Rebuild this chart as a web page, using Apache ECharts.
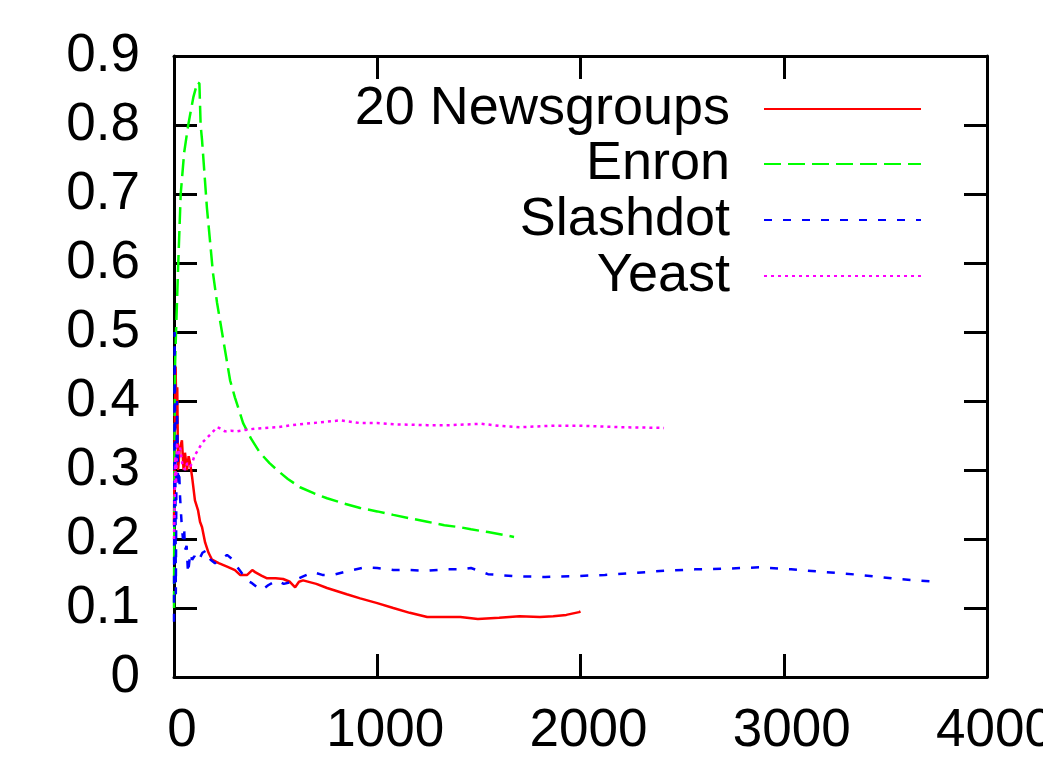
<!DOCTYPE html>
<html>
<head>
<meta charset="utf-8">
<script src="https://cdn.jsdelivr.net/npm/echarts@6/dist/echarts.min.js"></script>
<style>
html,body{margin:0;padding:0;background:#fff;}
#chart{width:1043px;height:764px;}
</style>
</head>
<body>
<div id="chart"></div>
<script>
// ---- data ----
var seriesNames = ['20 Newsgroups', 'Enron', 'Slashdot', 'Yeast'];
var xTickLabels = ['0', '1000', '2000', '3000', '4000'];
var yTickLabels = ['0', '0.1', '0.2', '0.3', '0.4', '0.5', '0.6', '0.7', '0.8', '0.9'];

var newsgroups = [[0,0.22],[4,0.38],[8,0.45],[12,0.36],[16,0.42],[20,0.30],[28,0.33],[39,0.343],[47,0.30],[54,0.325],[64,0.30],[72,0.32],[79,0.31],[89,0.29],[103,0.256],[118,0.242],[128,0.225],[138,0.217],[153,0.195],[170,0.18],[187,0.17],[220,0.165],[261,0.16],[300,0.155],[325,0.148],[360,0.148],[385,0.155],[399,0.152],[430,0.147],[458,0.143],[500,0.143],[537,0.142],[570,0.138],[596,0.13],[615,0.138],[635,0.14],[700,0.135],[753,0.129],[850,0.12],[916,0.114],[1000,0.107],[1079,0.10],[1160,0.093],[1246,0.087],[1330,0.087],[1409,0.087],[1495,0.084],[1600,0.086],[1700,0.088],[1800,0.087],[1866,0.088],[1930,0.09],[1993,0.094],[2000,0.095]];

var enron = [[0,0.10],[2,0.30],[5,0.45],[10,0.50],[21,0.60],[33,0.70],[50,0.76],[70,0.80],[95,0.84],[115,0.862],[125,0.86],[131,0.80],[138,0.778],[162,0.68],[192,0.585],[212,0.542],[236,0.50],[276,0.43],[300,0.405],[340,0.368],[380,0.345],[423,0.325],[470,0.31],[507,0.30],[560,0.287],[620,0.275],[690,0.266],[753,0.259],[830,0.252],[916,0.245],[1000,0.24],[1079,0.235],[1160,0.23],[1246,0.225],[1330,0.22],[1409,0.217],[1461,0.214],[1545,0.21],[1620,0.206],[1673,0.203]];

var slashdot = [[0,0.08],[3,0.50],[6,0.35],[9,0.12],[12,0.30],[15,0.40],[20,0.275],[25,0.30],[30,0.26],[38,0.22],[44,0.20],[50,0.215],[54,0.184],[62,0.19],[69,0.15],[80,0.18],[89,0.17],[100,0.175],[118,0.167],[140,0.18],[162,0.184],[180,0.17],[202,0.165],[230,0.17],[261,0.177],[290,0.17],[310,0.16],[335,0.15],[360,0.14],[384,0.136],[410,0.13],[433,0.126],[463,0.133],[507,0.14],[540,0.135],[581,0.138],[630,0.145],[684,0.152],[730,0.148],[783,0.148],[850,0.153],[941,0.159],[1000,0.158],[1079,0.155],[1160,0.155],[1246,0.154],[1330,0.156],[1409,0.156],[1461,0.158],[1545,0.149],[1683,0.146],[1826,0.145],[1968,0.146],[2120,0.148],[2273,0.151],[2411,0.154],[2563,0.156],[2716,0.157],[2883,0.159],[3036,0.156],[3208,0.152],[3375,0.148],[3562,0.142],[3749,0.138]];

var yeast = [[0,0.20],[3,0.24],[6,0.32],[10,0.28],[15,0.34],[20,0.32],[30,0.333],[40,0.31],[54,0.30],[65,0.31],[79,0.305],[89,0.31],[100,0.32],[118,0.329],[140,0.34],[167,0.348],[190,0.355],[212,0.362],[230,0.36],[251,0.356],[280,0.357],[310,0.356],[349,0.358],[400,0.36],[448,0.361],[507,0.362],[580,0.365],[679,0.368],[753,0.37],[820,0.372],[916,0.368],[1000,0.368],[1100,0.366],[1246,0.365],[1360,0.365],[1512,0.367],[1600,0.364],[1700,0.362],[1850,0.364],[2005,0.364],[2200,0.362],[2411,0.361]];

var seriesData = [newsgroups, enron, slashdot, yeast];
var seriesColors = ['#ff0000', '#00ff00', '#0000ff', '#ff00ff'];
var seriesDash = ['solid', [17, 7], [8, 11], [3, 4]];

// ---- chart ----
var FONT = '"Liberation Sans", Arial, Helvetica, sans-serif';
var chart = echarts.init(document.getElementById('chart'), null, {renderer: 'canvas'});

function axisCommon(extra) {
  var base = {
    type: 'value',
    axisLine: {show: true, onZero: false, lineStyle: {color: '#000', width: 3}},
    axisTick: {show: true, inside: true, length: 23, lineStyle: {color: '#000', width: 3}},
    splitLine: {show: false}
  };
  for (var k in extra) base[k] = extra[k];
  return base;
}

var xAxes = [
  axisCommon({position: 'bottom', min: 0, max: 4000, interval: 1000,
    axisLabel: {show: true, color: '#000', fontSize: 53, fontFamily: FONT, margin: 28,
      padding: [0, 0, 0, 16], hideOverlap: false,
      formatter: function (v) { return xTickLabels[Math.round(v / 1000)]; }}}),
  axisCommon({position: 'top', min: 0, max: 4000, interval: 1000, axisLabel: {show: false}})
];
var yAxes = [
  axisCommon({position: 'left', min: 0, max: 0.9, interval: 0.1,
    axisLabel: {show: true, color: '#000', fontSize: 53, fontFamily: FONT, margin: 34,
      formatter: function (v) { return yTickLabels[Math.round(v / 0.1)]; }}}),
  axisCommon({position: 'right', min: 0, max: 0.9, interval: 0.1, axisLabel: {show: false}})
];

var rowTops = [77, 132, 188, 244];
var legends = seriesNames.map(function (n, i) {
  return {
    data: [n],
    right: 116,
    top: rowTops[i],
    orient: 'vertical',
    align: 'right',
    itemWidth: 157,
    itemHeight: 28,
    selectedMode: false,
    itemStyle: {opacity: 0},
    textStyle: {fontSize: 54, fontFamily: FONT, color: '#000', padding: [0, 29, 0, 0]}
  };
});

var series = seriesNames.map(function (n, i) {
  return {
    name: n,
    type: 'line',
    xAxisIndex: 0,
    yAxisIndex: 0,
    data: seriesData[i],
    showSymbol: false,
    symbol: 'none',
    smooth: false,
    lineStyle: {color: seriesColors[i], width: 2.5, type: seriesDash[i]},
    itemStyle: {color: seriesColors[i]},
    z: 2 + i
  };
});

chart.setOption({
  animation: false,
  backgroundColor: '#fff',
  grid: {left: 174, right: 56, top: 56, bottom: 87, containLabel: false, outerBoundsMode: 'none'},
  xAxis: xAxes,
  yAxis: yAxes,
  legend: legends,
  series: series
});
</script>
</body>
</html>
